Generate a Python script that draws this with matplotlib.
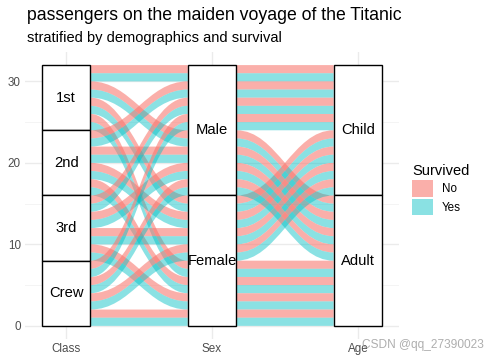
import itertools
import matplotlib
matplotlib.use('Agg')
import matplotlib.pyplot as plt
from matplotlib.path import Path
from matplotlib.patches import PathPatch, Rectangle, Patch

plt.rcParams['font.family'] = ['Liberation Sans', 'DejaVu Sans']

# Titanic table, every combination counted once
axes_names = ['Class', 'Sex', 'Age']
classes = ['1st', '2nd', '3rd', 'Crew']
sexes = ['Male', 'Female']
ages = ['Child', 'Adult']
survived = ['No', 'Yes']
weight = 1

levels = {'Class': classes, 'Sex': sexes, 'Age': ages}
fill_colors = {'No': '#F8766D', 'Yes': '#00BFC4'}
fill_alpha = {'No': 0.58, 'Yes': 0.46}

rows = [dict(Class=c, Sex=s, Age=a, Survived=v, w=weight)
        for c, s, a, v in itertools.product(classes, sexes, ages, survived)]

# lode ordering at each axis (zigzag: own stratum, then nearest axes)
sort_keys = {
    'Class': ['Class', 'Sex', 'Age'],
    'Sex': ['Sex', 'Age', 'Class'],
    'Age': ['Age', 'Sex', 'Class'],
}
total = sum(r['w'] for r in rows)

pos = {}   # (row index, axis) -> (bottom, top)
strata = {}
for ax_name in axes_names:
    def key(i):
        r = rows[i]
        k = [levels[n].index(r[n]) for n in sort_keys[ax_name]]
        return k + [survived.index(r['Survived'])]
    order = sorted(range(len(rows)), key=key)
    top = total
    for i in order:
        pos[(i, ax_name)] = (top - rows[i]['w'], top)
        top -= rows[i]['w']
    top = total
    for lev in levels[ax_name]:
        h = sum(r['w'] for r in rows if r[ax_name] == lev)
        strata[(ax_name, lev)] = (top - h, top)
        top -= h

fig = plt.figure(figsize=(4.88, 3.64), dpi=100)
ax = fig.add_axes([0.051, 0.069, 0.767, 0.788])

width = 1 / 3
a = 0.42
for j in range(len(axes_names) - 1):
    x0 = j + 1 + width / 2
    x1 = j + 2 - width / 2
    w = x1 - x0
    for i, r in enumerate(rows):
        b0, t0 = pos[(i, axes_names[j])]
        b1, t1 = pos[(i, axes_names[j + 1])]
        verts = [(x0, t0), (x0 + a * w, t0), (x1 - a * w, t1), (x1, t1),
                 (x1, b1), (x1 - a * w, b1), (x0 + a * w, b0), (x0, b0), (x0, t0)]
        codes = [Path.MOVETO, Path.CURVE4, Path.CURVE4, Path.CURVE4,
                 Path.LINETO, Path.CURVE4, Path.CURVE4, Path.CURVE4, Path.CLOSEPOLY]
        ax.add_patch(PathPatch(Path(verts, codes), facecolor=fill_colors[r['Survived']],
                               edgecolor='none', alpha=fill_alpha[r['Survived']], zorder=2))

for j, ax_name in enumerate(axes_names):
    for lev in levels[ax_name]:
        b, t = strata[(ax_name, lev)]
        ax.add_patch(Rectangle((j + 1 - width / 2, b), width, t - b, facecolor='white',
                               edgecolor='black', linewidth=1.0, zorder=3))
        ax.text(j + 1, (b + t) / 2, lev, ha='center', va='center', fontsize=10.6,
                color='black', zorder=4)

ax.set_xlim(0.717, 3.283)
ax.set_ylim(-1.6, 33.6)
ax.set_xticks([1, 2, 3])
ax.set_xticklabels(axes_names)
ax.set_yticks([0, 10, 20, 30])
ax.set_yticks([5, 15, 25], minor=True)
ax.tick_params(which='both', length=0, labelsize=8.4, labelcolor='#4D4D4D', pad=3)
ax.grid(which='major', color='#EBEBEB', linewidth=1.0, zorder=0)
ax.grid(which='minor', axis='y', color='#F2F2F2', linewidth=0.6, zorder=0)
ax.set_axisbelow(True)
for s in ax.spines.values():
    s.set_visible(False)

fig.text(0.055, 0.944, 'passengers on the maiden voyage of the Titanic', fontsize=12.7,
         va='baseline', ha='left')
fig.text(0.055, 0.885, 'stratified by demographics and survival', fontsize=10.5,
         va='baseline', ha='left')

handles = [Patch(facecolor=fill_colors[v], alpha=fill_alpha[v], edgecolor='none')
           for v in survived]
leg = fig.legend(handles, survived, title='Survived', loc='upper left',
                 bbox_to_anchor=(0.845, 0.55), frameon=False, fontsize=8.4,
                 title_fontsize=10.5, handlelength=1.8, handleheight=1.8,
                 labelspacing=0.2, handletextpad=0.75, borderpad=0, borderaxespad=0)
leg._legend_box.align = 'left'

fig.text(0.742, 0.052, 'CSDN @qq_27390023', fontsize=8.6, color='#9A9A9A', alpha=0.8,
         va='center', ha='left')

fig.savefig('out.png', dpi=100)
